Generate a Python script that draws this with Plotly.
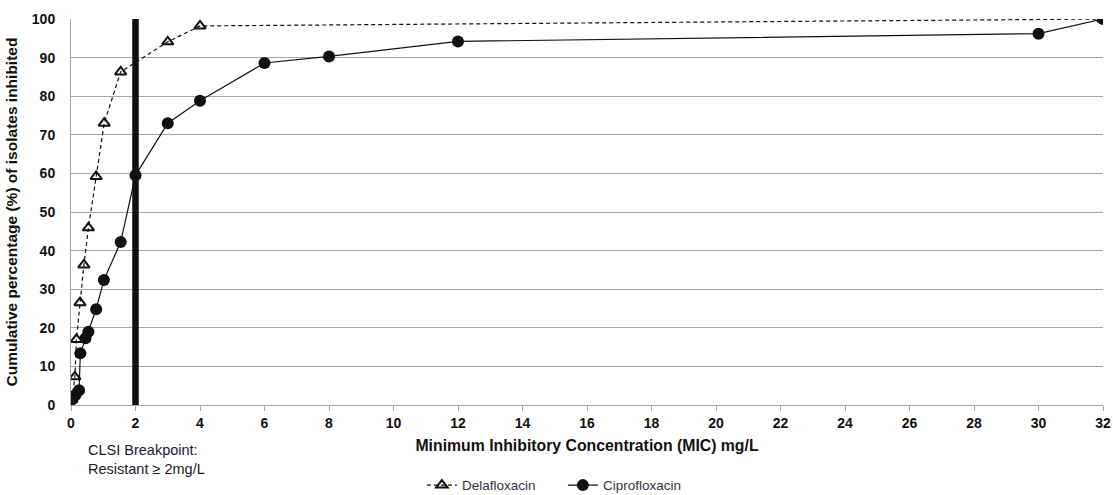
import plotly.graph_objects as go

# Delafloxacin cumulative % (x = MIC mg/L as positioned on the chart)
dela_mic = [0.03, 0.12, 0.17, 0.28, 0.40, 0.54, 0.78, 1.03, 1.54, 3.0, 4.0, 32.0]
dela_pct = [1.5, 7.3, 17.0, 26.5, 36.3, 45.9, 59.2, 73.0, 86.3, 94.1, 98.2, 100.0]

# Ciprofloxacin cumulative %
cipro_mic = [0.04, 0.14, 0.25, 0.29, 0.45, 0.54, 0.78, 1.02, 1.54, 2.0, 3.0, 4.0, 6.0, 8.0, 12.0, 30.0, 32.0]
cipro_pct = [1.5, 2.6, 3.8, 13.4, 17.3, 19.0, 24.8, 32.4, 42.2, 59.5, 73.0, 78.8, 88.6, 90.3, 94.2, 96.2, 100.0]

breakpoint_mic = 2
x_ticks = list(range(0, 33, 2))
y_ticks = list(range(0, 101, 10))

FONT = "Arial, Liberation Sans, sans-serif"

fig = go.Figure()

fig.add_trace(go.Scatter(
    x=dela_mic, y=dela_pct, name="Delafloxacin", mode="lines+markers",
    line=dict(color="#111111", width=1.2, dash="4px,3px"),
    marker=dict(symbol="triangle-up-open", size=10, color="#111111",
                line=dict(color="#111111", width=2)),
))
fig.add_trace(go.Scatter(
    x=cipro_mic, y=cipro_pct, name="Ciprofloxacin", mode="lines+markers",
    line=dict(color="#111111", width=1.2),
    marker=dict(symbol="circle", size=12, color="#111111"),
))

fig.add_shape(type="line", xref="x", yref="y", x0=breakpoint_mic, x1=breakpoint_mic,
              y0=0, y1=100.5, line=dict(color="#111111", width=6.5), layer="between")

fig.add_annotation(
    xref="paper", yref="paper", x=0.0145, y=-0.09, xanchor="left", yanchor="top",
    text="CLSI Breakpoint:<br>Resistant ≥ 2mg/L", showarrow=False, align="left",
    font=dict(family=FONT, size=14.5, color="#1a1a2a"),
)

fig.update_layout(
    width=1113, height=495,
    margin=dict(l=71, r=10, t=19, b=90, autoexpand=False),
    paper_bgcolor="white", plot_bgcolor="white",
    font=dict(family=FONT, color="#111111"),
    showlegend=True,
    legend=dict(orientation="h", x=0.340, xanchor="left", y=-0.168, yanchor="top",
                entrywidth=96, entrywidthmode="pixels",
                font=dict(family=FONT, size=13.5, color="#333344")),
)

fig.update_xaxes(
    range=[0, 32], tickvals=x_ticks, ticktext=[str(v) for v in x_ticks],
    showgrid=False, zeroline=False, showline=True, linecolor="#a6a6a6", linewidth=1,
    ticks="outside", ticklen=5, tickcolor="#a6a6a6", automargin=False,
    tickfont=dict(family=FONT, size=14, color="#111111", weight="bold"),
    title=dict(text="<b>Minimum Inhibitory Concentration (MIC) mg/L</b>",
               font=dict(family=FONT, size=15.8, color="#111111"), standoff=10),
)
fig.update_yaxes(
    range=[0, 100], tickvals=y_ticks, automargin=False,
    showgrid=True, gridcolor="#a6a6a6", gridwidth=1, zeroline=False,
    showline=True, linecolor="#a6a6a6", linewidth=1,
    ticks="", ticklabelstandoff=12,
    tickfont=dict(family=FONT, size=14, color="#111111", weight="bold"),
    title=dict(text="<b>Cumulative percentage (%) of isolates inhibited</b>",
               font=dict(family=FONT, size=15.5, color="#111111"), standoff=10),
)

fig.write_html(
    "out.html",
    config={"displayModeBar": False},
    post_script="document.body.style.margin='0';document.body.style.overflow='hidden';",
)
